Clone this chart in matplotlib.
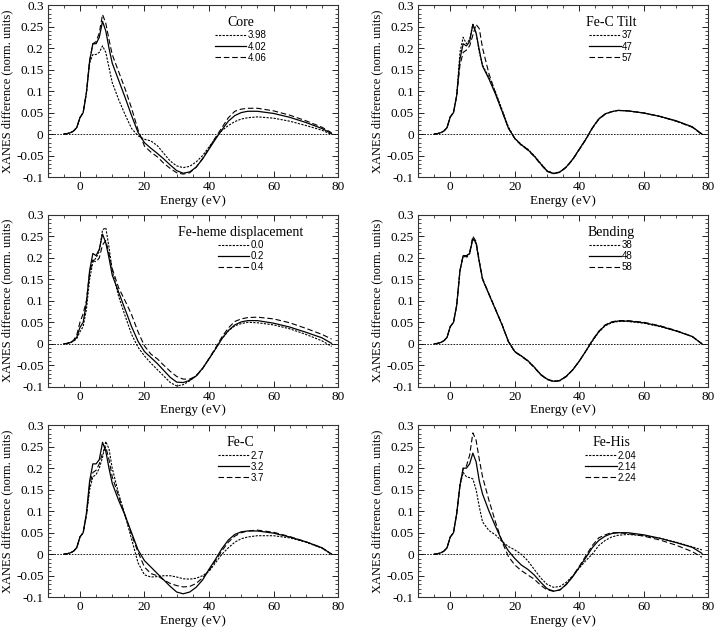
import matplotlib
matplotlib.use("Agg")
import matplotlib.pyplot as plt
from matplotlib.ticker import MultipleLocator

plt.rcParams['font.family'] = ['Liberation Serif', 'DejaVu Serif']
plt.rcParams['mathtext.fontset'] = 'stix'

# energy grid (eV)
X = [-5, -4, -3, -2, -1, 0, 1, 2,
     3, 4, 5, 6, 7, 8, 9, 10,
     12, 14, 16, 18, 20, 22, 24, 26,
     28, 30, 32, 34, 36, 38, 40, 42,
     44, 46, 48, 50, 52, 55, 60, 65,
     70, 75, 78]

# Core
core_398 = [0, 0.001, 0.003, 0.007, 0.015, 0.038, 0.05, 0.095,
            0.165, 0.185, 0.185, 0.19, 0.205, 0.19, 0.155, 0.12,
            0.08, 0.045, 0.013, -0.004, -0.012, -0.016, -0.027, -0.045,
            -0.063, -0.074, -0.078, -0.075, -0.065, -0.05, -0.03, -0.009,
            0.008, 0.02, 0.029, 0.035, 0.038, 0.04, 0.037, 0.03,
            0.02, 0.009, -0.001]
core_402 = [0, 0.001, 0.003, 0.007, 0.015, 0.038, 0.05, 0.096,
            0.17, 0.21, 0.21, 0.225, 0.262, 0.24, 0.2, 0.165,
            0.125, 0.085, 0.043, 0.004, -0.02, -0.033, -0.045, -0.058,
            -0.072, -0.085, -0.091, -0.088, -0.077, -0.058, -0.035, -0.012,
            0.01, 0.03, 0.043, 0.05, 0.053, 0.053, 0.048, 0.039,
            0.027, 0.013, 0.001]
core_406 = [0, 0.001, 0.003, 0.007, 0.015, 0.038, 0.05, 0.096,
            0.17, 0.21, 0.215, 0.235, 0.278, 0.258, 0.22, 0.185,
            0.145, 0.105, 0.06, 0.01, -0.028, -0.042, -0.053, -0.068,
            -0.08, -0.09, -0.093, -0.09, -0.077, -0.057, -0.033, -0.008,
            0.015, 0.038, 0.053, 0.058, 0.06, 0.06, 0.054, 0.044,
            0.031, 0.016, 0.003]

# Fe-C Tilt
tilt_37 = [0, 0.001, 0.003, 0.007, 0.015, 0.04, 0.05, 0.09,
           0.19, 0.225, 0.21, 0.22, 0.255, 0.235, 0.19, 0.16,
           0.132, 0.098, 0.058, 0.017, -0.01, -0.024, -0.035, -0.05,
           -0.068, -0.085, -0.091, -0.088, -0.076, -0.058, -0.035, -0.012,
           0.014, 0.035, 0.047, 0.052, 0.055, 0.054, 0.049, 0.041,
           0.03, 0.016, 0.0]
tilt_47 = [0, 0.001, 0.003, 0.007, 0.015, 0.04, 0.05, 0.09,
           0.175, 0.21, 0.205, 0.215, 0.255, 0.235, 0.195, 0.158,
           0.128, 0.093, 0.054, 0.014, -0.01, -0.025, -0.036, -0.051,
           -0.069, -0.086, -0.092, -0.088, -0.076, -0.058, -0.035, -0.012,
           0.014, 0.035, 0.047, 0.052, 0.055, 0.054, 0.049, 0.041,
           0.031, 0.017, 0.0]
tilt_57 = [0, 0.001, 0.003, 0.007, 0.015, 0.04, 0.05, 0.09,
           0.16, 0.19, 0.195, 0.205, 0.23, 0.255, 0.245, 0.2,
           0.14, 0.096, 0.055, 0.014, -0.011, -0.026, -0.037, -0.052,
           -0.07, -0.087, -0.092, -0.089, -0.077, -0.059, -0.036, -0.013,
           0.013, 0.034, 0.046, 0.052, 0.055, 0.054, 0.049, 0.041,
           0.03, 0.016, -0.001]

# Fe-heme displacement
heme_00 = [0, 0.001, 0.003, 0.006, 0.012, 0.028, 0.04, 0.08,
           0.15, 0.19, 0.2, 0.215, 0.265, 0.27, 0.225, 0.17,
           0.11, 0.065, 0.022, -0.008, -0.028, -0.045, -0.06, -0.075,
           -0.09, -0.098, -0.095, -0.086, -0.074, -0.057, -0.035, -0.012,
           0.012, 0.03, 0.042, 0.047, 0.05, 0.049, 0.044, 0.035,
           0.022, 0.007, -0.006]
heme_02 = [0, 0.001, 0.003, 0.007, 0.015, 0.038, 0.05, 0.095,
           0.17, 0.21, 0.205, 0.22, 0.255, 0.235, 0.2, 0.16,
           0.12, 0.08, 0.04, 0.006, -0.018, -0.032, -0.046, -0.062,
           -0.078, -0.089, -0.09, -0.085, -0.075, -0.057, -0.035, -0.012,
           0.012, 0.031, 0.044, 0.051, 0.054, 0.054, 0.048, 0.039,
           0.027, 0.014, 0.001]
heme_04 = [0, 0.001, 0.003, 0.008, 0.02, 0.05, 0.07, 0.1,
           0.165, 0.195, 0.19, 0.2, 0.23, 0.24, 0.21, 0.175,
           0.13, 0.1, 0.068, 0.028, -0.005, -0.024, -0.035, -0.05,
           -0.064, -0.076, -0.082, -0.082, -0.075, -0.058, -0.034, -0.01,
           0.016, 0.037, 0.052, 0.058, 0.061, 0.062, 0.058, 0.049,
           0.036, 0.022, 0.011]

# Bending
bend_38 = [0, 0.001, 0.003, 0.007, 0.015, 0.04, 0.05, 0.09,
           0.17, 0.205, 0.2, 0.21, 0.245, 0.232, 0.19, 0.15,
           0.115, 0.08, 0.045, 0.006, -0.018, -0.028, -0.039, -0.054,
           -0.071, -0.082, -0.087, -0.085, -0.075, -0.06, -0.04, -0.017,
           0.006, 0.027, 0.042, 0.049, 0.052, 0.052, 0.048, 0.04,
           0.03, 0.017, 0.0]
bend_48 = [0, 0.001, 0.003, 0.007, 0.015, 0.04, 0.05, 0.09,
           0.17, 0.205, 0.205, 0.21, 0.245, 0.235, 0.19, 0.15,
           0.115, 0.08, 0.045, 0.006, -0.018, -0.028, -0.039, -0.054,
           -0.071, -0.082, -0.087, -0.085, -0.075, -0.06, -0.04, -0.017,
           0.007, 0.028, 0.043, 0.05, 0.053, 0.053, 0.049, 0.041,
           0.03, 0.017, 0.0]
bend_58 = [0, 0.001, 0.003, 0.007, 0.015, 0.04, 0.05, 0.09,
           0.17, 0.206, 0.203, 0.212, 0.25, 0.238, 0.192, 0.152,
           0.116, 0.081, 0.046, 0.005, -0.019, -0.029, -0.04, -0.055,
           -0.072, -0.083, -0.088, -0.086, -0.076, -0.06, -0.04, -0.017,
           0.008, 0.029, 0.044, 0.051, 0.054, 0.054, 0.05, 0.042,
           0.031, 0.017, 0.0]

# Fe-C
fec_27 = [0, 0.001, 0.003, 0.007, 0.015, 0.04, 0.05, 0.09,
          0.15, 0.18, 0.185, 0.2, 0.225, 0.262, 0.245, 0.2,
          0.14, 0.09, 0.035, -0.02, -0.048, -0.053, -0.052, -0.05,
          -0.05, -0.053, -0.057, -0.058, -0.056, -0.05, -0.04, -0.02,
          0.0, 0.015, 0.028, 0.036, 0.04, 0.043, 0.043, 0.038,
          0.028, 0.014, 0.0]
fec_32 = [0, 0.001, 0.003, 0.007, 0.015, 0.04, 0.05, 0.095,
          0.17, 0.21, 0.21, 0.22, 0.26, 0.24, 0.2, 0.165,
          0.125, 0.09, 0.05, 0.01, -0.015, -0.03, -0.045, -0.06,
          -0.075, -0.088, -0.092, -0.088, -0.077, -0.06, -0.035, -0.012,
          0.013, 0.033, 0.046, 0.052, 0.054, 0.054, 0.049, 0.04,
          0.029, 0.015, 0.0]
fec_37 = [0, 0.001, 0.003, 0.007, 0.015, 0.04, 0.05, 0.09,
          0.16, 0.19, 0.195, 0.21, 0.235, 0.25, 0.22, 0.18,
          0.135, 0.09, 0.045, 0.005, -0.03, -0.045, -0.05, -0.06,
          -0.068, -0.073, -0.076, -0.075, -0.068, -0.055, -0.038, -0.015,
          0.008, 0.028, 0.042, 0.05, 0.054, 0.056, 0.051, 0.041,
          0.029, 0.015, 0.0]

# Fe-His
his_204 = [0, 0.001, 0.003, 0.007, 0.015, 0.04, 0.05, 0.095,
           0.16, 0.19, 0.18, 0.178, 0.175, 0.15, 0.11, 0.075,
           0.055, 0.045, 0.03, 0.018, 0.01, 0.0, -0.015, -0.035,
           -0.055, -0.07, -0.077, -0.075, -0.065, -0.05, -0.032, -0.015,
           0.0, 0.02, 0.032, 0.04, 0.044, 0.046, 0.043, 0.037,
           0.028, 0.017, 0.01]
his_214 = [0, 0.001, 0.003, 0.007, 0.015, 0.04, 0.05, 0.095,
           0.16, 0.2, 0.2, 0.21, 0.235, 0.215, 0.17, 0.14,
           0.1, 0.065, 0.032, 0.008, -0.01, -0.025, -0.035, -0.048,
           -0.065, -0.08, -0.086, -0.083, -0.07, -0.052, -0.03, -0.008,
           0.015, 0.032, 0.042, 0.048, 0.05, 0.05, 0.045, 0.037,
           0.027, 0.016, 0.002]
his_224 = [0, 0.001, 0.003, 0.007, 0.015, 0.04, 0.05, 0.095,
           0.16, 0.2, 0.205, 0.23, 0.282, 0.265, 0.22, 0.18,
           0.125, 0.075, 0.03, -0.005, -0.025, -0.038, -0.048, -0.058,
           -0.072, -0.083, -0.086, -0.083, -0.07, -0.05, -0.028, -0.004,
           0.02, 0.038, 0.045, 0.05, 0.05, 0.048, 0.042, 0.033,
           0.021, 0.006, -0.007]

panels = [
    ("Core", ["3.98", "4.02", "4.06"], [core_398, core_402, core_406]),
    ("Fe-C Tilt", ["37", "47", "57"], [tilt_37, tilt_47, tilt_57]),
    ("Fe-heme displacement", ["0.0", "0.2", "0.4"], [heme_00, heme_02, heme_04]),
    ("Bending", ["38", "48", "58"], [bend_38, bend_48, bend_58]),
    ("Fe-C", ["2.7", "3.2", "3.7"], [fec_27, fec_32, fec_37]),
    ("Fe-His", ["2.04", "2.14", "2.24"], [his_204, his_214, his_224]),
]

styles = [(0, (2, 1.2)), '-', (0, (5, 2.5))]
widths = [0.8, 0.9, 0.8]

fig = plt.figure(figsize=(7.17, 6.28), dpi=100)
lefts = [0.0665, 0.583]
bottoms = [0.718, 0.384, 0.049]

for k, (title, labels, series) in enumerate(panels):
    ax = fig.add_axes([lefts[k % 2], bottoms[k // 2], 0.405, 0.274])
    ax.axhline(0, color='black', lw=0.6, ls=(0, (2, 1.5)))
    for y, lab, ls, lw in zip(series, labels, styles, widths):
        ax.plot(X, y, color='black', ls=ls, lw=lw, label=lab)
    ax.set_xlim(-10, 80)
    ax.set_ylim(-0.1, 0.3)
    ax.xaxis.set_major_locator(MultipleLocator(20))
    ax.xaxis.set_minor_locator(MultipleLocator(5))
    ax.yaxis.set_major_locator(MultipleLocator(0.05))
    ax.yaxis.set_minor_locator(MultipleLocator(0.01))
    ax.set_yticks([-0.1, -0.05, 0, 0.05, 0.1, 0.15, 0.2, 0.25, 0.3])
    ax.set_yticklabels(['-0.1', '-0.05', '0', '0.05', '0.1', '0.15', '0.2', '0.25', '0.3'])
    ax.tick_params(which='both', direction='in', top=True, right=True, labelsize=9.5, pad=3)
    ax.tick_params(which='major', length=4, width=0.6)
    ax.tick_params(which='minor', length=2, width=0.5)
    for sp in ax.spines.values():
        sp.set_linewidth(0.8)
        sp.set_color('#333333')
    ax.set_xlabel("Energy (eV)", fontsize=9.5, labelpad=1)
    ax.set_ylabel("XANES difference (norm. units)", fontsize=9, labelpad=2)
    leg = ax.legend(loc='upper center', bbox_to_anchor=(0.665, 0.97), frameon=False,
                    title=title, handlelength=3.2, handletextpad=0.15, labelspacing=0.12,
                    borderpad=0.1, prop={'family': 'Liberation Sans', 'size': 7},
                    title_fontproperties={'family': 'Liberation Serif', 'size': 10})
    leg._legend_box.sep = 1

fig.savefig("out.png", dpi=100)
